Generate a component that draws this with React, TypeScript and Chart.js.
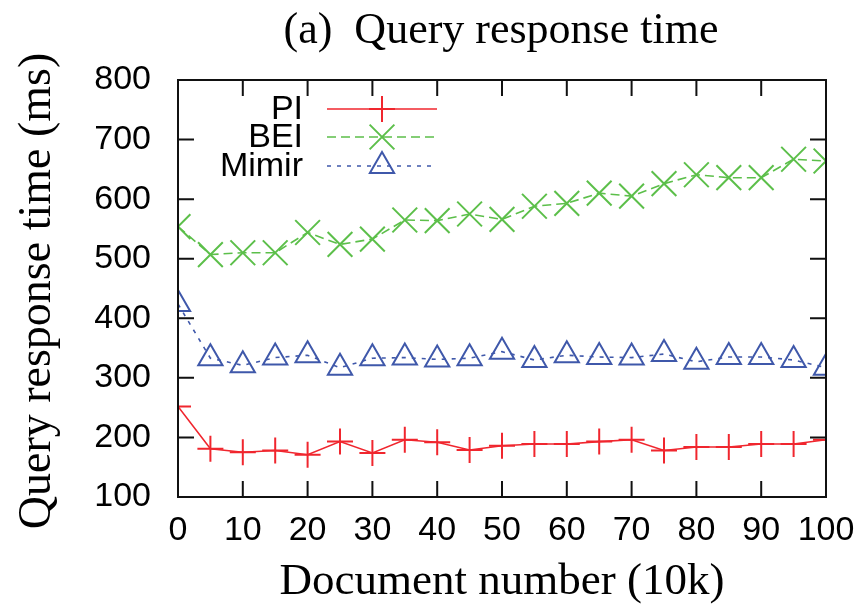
import React, { useEffect, useRef } from "react";
import { Chart, registerables } from "chart.js";

Chart.register(...registerables);

const xValues = [0, 5, 10, 15, 20, 25, 30, 35, 40, 45, 50, 55, 60, 65, 70, 75, 80, 85, 90, 95, 100];
const piValues = [252, 181, 175, 178, 171, 193, 174, 196, 192, 179, 186, 189, 189, 193, 196, 178, 184, 184, 189, 189, 196];
const beiValues = [554, 507, 510, 510, 544, 524, 533, 565, 564, 575, 566, 588, 593, 610, 605, 626, 641, 636, 636, 667, 664];
const mimirValues = [424, 333, 321, 334, 338, 317, 333, 334, 331, 333, 344, 330, 338, 335, 334, 340, 327, 335, 335, 330, 317];
const seriesNames = ["PI", "BEI", "Mimir"];
const titleText = "(a)  Query response time";
const xTitle = "Document number (10k)";
const yTitle = "Query response time (ms)";

const RED = "#f0262e";
const GREEN = "#5cbf4a";
const BLUE = "#3f58aa";

function drawMarker(ctx: CanvasRenderingContext2D, style: string, r: number, x: number, y: number) {
  ctx.beginPath();
  if (style === "cross") {
    ctx.moveTo(x - r, y); ctx.lineTo(x + r, y);
    ctx.moveTo(x, y - r); ctx.lineTo(x, y + r);
  } else if (style === "crossRot") {
    const o = r * Math.SQRT1_2;
    ctx.moveTo(x - o, y - o); ctx.lineTo(x + o, y + o);
    ctx.moveTo(x - o, y + o); ctx.lineTo(x + o, y - o);
  } else {
    let a = 0;
    ctx.moveTo(x + Math.sin(a) * r, y - Math.cos(a) * r);
    a += (2 * Math.PI) / 3;
    ctx.lineTo(x + Math.sin(a) * r, y - Math.cos(a) * r);
    a += (2 * Math.PI) / 3;
    ctx.lineTo(x + Math.sin(a) * r, y - Math.cos(a) * r);
    ctx.closePath();
  }
  ctx.stroke();
}

const decorPlugin = {
  id: "decor",
  afterDraw(chart: any) {
    const ctx = chart.ctx;
    const { left, right, top, bottom } = chart.chartArea;
    const xs = chart.scales.x;
    const ys = chart.scales.y;
    ctx.save();
    ctx.fillStyle = "#000";
    ctx.textAlign = "center";
    ctx.textBaseline = "middle";
    ctx.font = "44px 'Liberation Serif'";
    ctx.fillText(titleText, 501, 31);
    ctx.font = "45px 'Liberation Serif'";
    ctx.fillText(xTitle, 502, 582);
    ctx.save();
    ctx.translate(38, 291);
    ctx.rotate(-Math.PI / 2);
    ctx.font = "46px 'Liberation Serif'";
    ctx.fillText(yTitle, 0, 0);
    ctx.restore();
    ctx.strokeStyle = "#111";
    ctx.lineWidth = 2;
    ctx.strokeRect(left, top, right - left, bottom - top);
    const tl = 16;
    ctx.beginPath();
    xs.ticks.forEach((t: any) => {
      const px = xs.getPixelForValue(t.value);
      ctx.moveTo(px, bottom);
      ctx.lineTo(px, bottom - tl);
      ctx.moveTo(px, top);
      ctx.lineTo(px, top + tl);
    });
    ys.ticks.forEach((t: any) => {
      const py = ys.getPixelForValue(t.value);
      ctx.moveTo(left, py);
      ctx.lineTo(left + tl, py);
      ctx.moveTo(right, py);
      ctx.lineTo(right - tl, py);
    });
    ctx.stroke();
    const rows = [109, 137, 166];
    ctx.font = "34px 'Liberation Sans'";
    ctx.textAlign = "right";
    chart.data.datasets.forEach((ds: any, i: number) => {
      const y = rows[i];
      ctx.fillStyle = "#000";
      ctx.fillText(ds.label, 303, y + 1);
      ctx.strokeStyle = ds.borderColor;
      ctx.lineWidth = ds.borderWidth;
      ctx.setLineDash(ds.borderDash || []);
      ctx.beginPath();
      ctx.moveTo(327, y);
      ctx.lineTo(437, y);
      ctx.stroke();
      ctx.setLineDash([]);
      ctx.lineWidth = ds.pointBorderWidth;
      drawMarker(ctx, ds.pointStyle, ds.pointRadius, 382, y);
    });
    ctx.restore();
  },
};

export default function App() {
  const ref = useRef<HTMLCanvasElement>(null);
  useEffect(() => {
    if (!ref.current) return;
    const mk = (label: string, vals: number[], color: string, style: string, radius: number, dash: number[]) => ({
      label,
      data: xValues.map((x, i) => ({ x, y: vals[i] })),
      borderColor: color,
      backgroundColor: "transparent",
      pointBackgroundColor: "transparent",
      pointBorderColor: color,
      borderWidth: 1.6,
      pointBorderWidth: 2,
      pointStyle: style,
      pointRadius: radius,
      borderDash: dash,
      tension: 0,
    });
    const chart = new Chart(ref.current, {
      type: "line",
      data: {
        datasets: [
          mk(seriesNames[0], piValues, RED, "cross", 13, []),
          mk(seriesNames[1], beiValues, GREEN, "crossRot", 17.5, [9, 5]),
          mk(seriesNames[2], mimirValues, BLUE, "triangle", 14, [4, 6]),
        ] as any,
      },
      options: {
        responsive: false,
        animation: false,
        layout: { padding: { top: 80, right: 37, left: 0, bottom: 0 } },
        plugins: { legend: { display: false }, title: { display: false }, tooltip: { enabled: false } },
        scales: {
          x: {
            type: "linear",
            min: 0,
            max: 100,
            grid: { display: false },
            border: { display: false },
            ticks: { stepSize: 10, color: "#000", font: { family: "'Liberation Sans'", size: 34 }, padding: 5, maxRotation: 0 },
            afterFit: (s: any) => { s.height = 109; s.paddingLeft = 0; s.paddingRight = 0; },
          },
          y: {
            min: 100,
            max: 800,
            grid: { display: false },
            border: { display: false },
            ticks: { stepSize: 100, color: "#000", font: { family: "'Liberation Sans'", size: 34 }, padding: 19 },
            afterFit: (s: any) => { s.width = 178; s.paddingTop = 0; s.paddingBottom = 0; },
          },
        },
      },
      plugins: [decorPlugin],
    });
    return () => chart.destroy();
  }, []);
  return (
    <div style={{ position: "fixed", left: 0, top: 0, width: 863, height: 606, background: "#fff" }}>
      <canvas ref={ref} width={863} height={606} />
    </div>
  );
}
